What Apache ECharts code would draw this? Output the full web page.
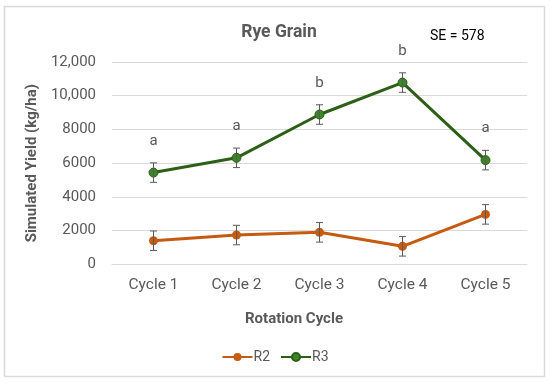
<!DOCTYPE html>
<html><head><meta charset="utf-8">
<script src="https://cdn.jsdelivr.net/npm/echarts@6/dist/echarts.min.js"></script>
<style>html,body{margin:0;padding:0;background:#fff}#c{width:550px;height:383px}</style>
</head><body><div id="c"></div>
<script>
const categories = ['Cycle 1','Cycle 2','Cycle 3','Cycle 4','Cycle 5'];
const r2 = [1400, 1735, 1895, 1065, 2960];
const r3 = [5440, 6315, 8885, 10780, 6180];
const se = 578;
const letters = ['a','a','b','b','a'];
const yTickLabels = {0:'0',2000:'2000',4000:'4000',6000:'6000',8000:'8000',10000:'10,000',12000:'12,000'};

const FONT = 'Roboto, "Noto Sans", sans-serif';
const chart = echarts.init(document.getElementById('c'));

function errSeries(data) {
  return {
    type: 'custom',
    silent: true,
    z: 3,
    data: data.map((v, i) => [i, v - se, v + se]),
    renderItem: function (params, api) {
      const x = api.value(0);
      const lo = api.coord([x, api.value(1)]);
      const hi = api.coord([x, api.value(2)]);
      const w = 3.5;
      const st = { stroke: '#595959', lineWidth: 1 };
      return {
        type: 'group',
        children: [
          { type: 'line', shape: { x1: lo[0], y1: lo[1], x2: hi[0], y2: hi[1] }, style: st },
          { type: 'line', shape: { x1: lo[0]-w, y1: lo[1], x2: lo[0]+w, y2: lo[1] }, style: st },
          { type: 'line', shape: { x1: hi[0]-w, y1: hi[1], x2: hi[0]+w, y2: hi[1] }, style: st }
        ]
      };
    }
  };
}

chart.setOption({
  animation: false,
  textStyle: { fontFamily: FONT },
  graphic: [
    { type: 'rect', shape: { x: 4.5, y: 6.5, width: 540, height: 370 }, style: { fill: 'none', stroke: '#d9d9d9', lineWidth: 1.5 } },
    { type: 'text', left: 430, top: 29, style: { text: 'SE = 578', fontSize: 14, fill: '#000', fontFamily: FONT } }
  ],
  title: {
    text: 'Rye Grain', left: 274, top: 19, textAlign: 'center',
    textStyle: { fontSize: 17.5, fontWeight: 'bold', color: '#595959', fontFamily: FONT }
  },
  legend: {
    top: 345, left: 'center',
    itemWidth: 30, itemHeight: 10, itemGap: 10,
    textStyle: { fontSize: 14, color: '#595959', padding: [0,0,0,-4] },
    data: ['R2', 'R3']
  },
  grid: { left: 112, right: 23, top: 62, bottom: 118.7 },
  xAxis: {
    type: 'category', data: categories,
    axisLine: { lineStyle: { color: '#d9d9d9' } },
    axisTick: { show: false },
    axisLabel: { color: '#595959', fontSize: 15.5, margin: 13 },
    name: 'Rotation Cycle', nameLocation: 'middle', nameGap: 47,
    nameTextStyle: { fontWeight: 'bold', fontSize: 15, color: '#595959', padding: [0, 51, 0, 0] }
  },
  yAxis: {
    type: 'value', min: 0, max: 12000, interval: 2000,
    axisLine: { show: false }, axisTick: { show: false },
    splitLine: { lineStyle: { color: '#d9d9d9' } },
    axisLabel: { color: '#595959', fontSize: 15, margin: 16, formatter: v => yTickLabels[v] },
    name: 'Simulated Yield (kg/ha)', nameLocation: 'middle', nameGap: 68,
    nameTextStyle: { fontWeight: 'bold', fontSize: 15, color: '#595959' }
  },
  series: [
    {
      name: 'R2', type: 'line', data: r2, z: 2,
      symbol: 'circle', symbolSize: 9,
      lineStyle: { color: '#C55A11', width: 3 },
      itemStyle: { color: '#C55A11' }
    },
    {
      name: 'R3', type: 'line', data: r3, z: 2,
      symbol: 'circle', symbolSize: 9,
      lineStyle: { color: '#2D5F16', width: 3 },
      itemStyle: { color: '#3A8525', borderColor: '#2D5F16', borderWidth: 1 },
      label: {
        show: true, position: 'top', distance: 19,
        formatter: p => letters[p.dataIndex],
        fontSize: 15, color: '#595959'
      }
    },
    errSeries(r2), errSeries(r3)
  ]
});
</script></body></html>
